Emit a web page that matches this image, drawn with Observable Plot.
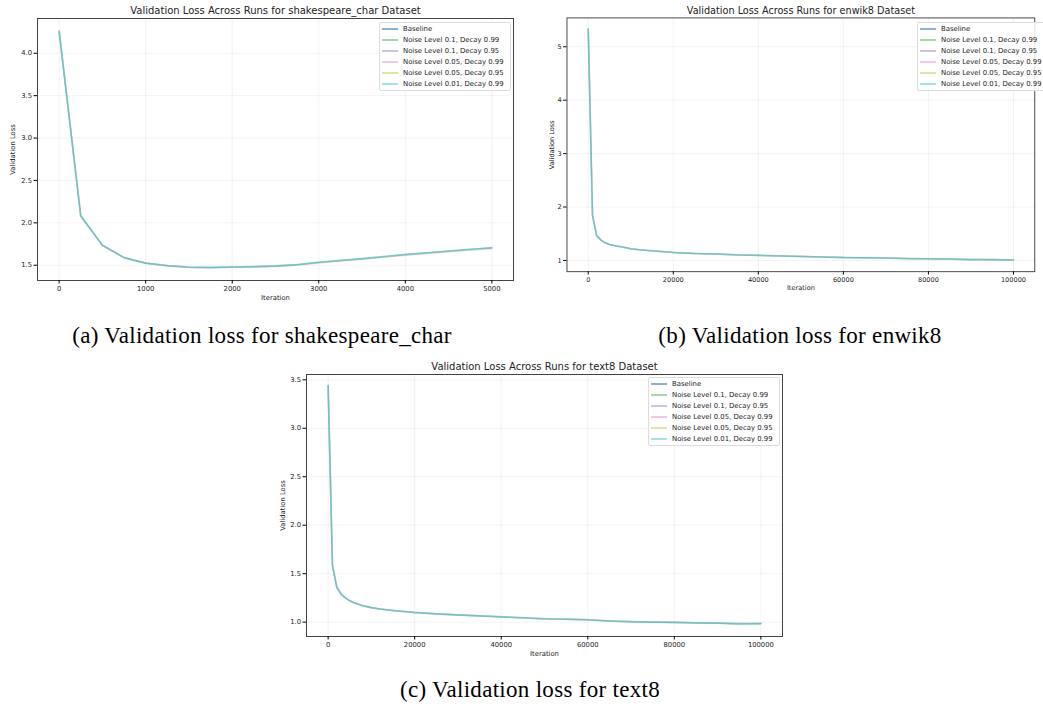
<!DOCTYPE html>
<html>
<head>
<meta charset="utf-8">
<script src="https://cdn.jsdelivr.net/npm/d3@7"></script>
<script src="https://cdn.jsdelivr.net/npm/@observablehq/plot@0.6"></script>
<style>
  html, body { margin: 0; padding: 0; background: #fff; overflow: hidden; }
  #root { position: relative; width: 1043px; height: 706px; overflow: hidden; font-family: "DejaVu Sans", sans-serif; }
  .panel { position: absolute; }
  .cap { position: absolute; font-family: "Liberation Serif", "DejaVu Serif", serif; font-size: 23px; line-height: 22px; letter-spacing: 0.3px; white-space: nowrap; transform: translateX(-50%); color: #000; }
  .legend { position: absolute; width: 126px; background: rgba(255,255,255,0.85); border: 1px solid #dcdcdc; border-radius: 2px; padding: 1px 2px; font-family: "DejaVu Sans", sans-serif; font-size: 6.9px; color: #222; white-space: nowrap; }
  .legend .row { display: flex; align-items: center; height: 10.9px; }
  .legend svg { flex: none; margin-right: 5px; }
</style>
</head>
<body>
<div id="root"></div>
<script>
// ---------- series names & colours ----------
const seriesNames = [
  "Baseline",
  "Noise Level 0.1, Decay 0.99",
  "Noise Level 0.1, Decay 0.95",
  "Noise Level 0.05, Decay 0.99",
  "Noise Level 0.05, Decay 0.95",
  "Noise Level 0.01, Decay 0.99"
];
const seriesColors = ["#1f77b4", "#2ca02c", "#9467bd", "#e377c2", "#bcbd22", "#17becf"];

// ---------- shakespeare_char ----------
const shkIters = [0,250,500,750,1000,1250,1500,1750,2000,2250,2500,2750,3000,3250,3500,3750,4000,4250,4500,4750,5000];
const shkBaseline = [4.26,2.08,1.735,1.59,1.525,1.495,1.478,1.472,1.478,1.482,1.490,1.505,1.535,1.555,1.575,1.600,1.625,1.645,1.665,1.685,1.705];
const shkN01D99   = [4.26,2.08,1.735,1.59,1.525,1.494,1.476,1.474,1.480,1.485,1.493,1.508,1.533,1.556,1.578,1.602,1.627,1.648,1.668,1.688,1.708];
const shkN01D95   = [4.26,2.08,1.733,1.59,1.524,1.493,1.475,1.473,1.477,1.481,1.489,1.504,1.532,1.553,1.574,1.598,1.622,1.643,1.663,1.683,1.702];
const shkN005D99  = [4.26,2.08,1.735,1.59,1.523,1.492,1.472,1.468,1.474,1.478,1.486,1.500,1.526,1.548,1.570,1.594,1.618,1.640,1.660,1.680,1.699];
const shkN005D95  = [4.26,2.08,1.736,1.59,1.526,1.494,1.477,1.470,1.476,1.480,1.485,1.499,1.528,1.550,1.571,1.595,1.619,1.638,1.657,1.677,1.696];
const shkN001D99  = [4.26,2.08,1.735,1.59,1.525,1.496,1.479,1.475,1.479,1.484,1.492,1.507,1.536,1.557,1.578,1.603,1.628,1.648,1.668,1.689,1.707];
const shkXTicks = [0,1000,2000,3000,4000,5000];
const shkYTicks = [1.5,2.0,2.5,3.0,3.5,4.0];

// ---------- enwik8 ----------
const longIters = [0,1000,2000,3000,4000,5000,6000,8000,10000,12000,15000,20000,25000,30000,35000,40000,45000,50000,55000,60000,65000,70000,75000,80000,85000,90000,95000,100000];
const enwBaseline = [5.33,1.84,1.46,1.38,1.33,1.30,1.28,1.25,1.22,1.20,1.180,1.150,1.130,1.120,1.105,1.095,1.085,1.075,1.065,1.055,1.050,1.045,1.035,1.030,1.025,1.015,1.015,1.010];
const enwN01D99   = [5.33,1.85,1.47,1.38,1.33,1.30,1.28,1.25,1.22,1.20,1.178,1.152,1.132,1.118,1.107,1.093,1.087,1.077,1.063,1.057,1.048,1.046,1.037,1.028,1.026,1.017,1.013,1.012];
const enwN01D95   = [5.33,1.84,1.46,1.38,1.33,1.30,1.28,1.25,1.22,1.20,1.181,1.149,1.131,1.121,1.104,1.096,1.084,1.076,1.066,1.054,1.051,1.044,1.036,1.031,1.024,1.016,1.014,1.011];
const enwN005D99  = [5.33,1.84,1.46,1.38,1.33,1.30,1.28,1.25,1.22,1.20,1.179,1.151,1.129,1.119,1.106,1.094,1.086,1.074,1.064,1.056,1.049,1.043,1.034,1.029,1.023,1.014,1.016,1.009];
const enwN005D95  = [5.33,1.85,1.46,1.38,1.33,1.30,1.28,1.25,1.22,1.20,1.182,1.150,1.130,1.122,1.105,1.097,1.085,1.075,1.067,1.055,1.050,1.045,1.035,1.032,1.025,1.015,1.020,1.010];
const enwN001D99  = [5.33,1.84,1.46,1.38,1.33,1.30,1.28,1.25,1.22,1.20,1.180,1.148,1.130,1.120,1.103,1.095,1.083,1.075,1.065,1.053,1.052,1.045,1.033,1.030,1.027,1.015,1.015,1.010];
const longXTicks = [0,20000,40000,60000,80000,100000];
const enwYTicks = [1,2,3,4,5];

// ---------- text8 ----------
const t8Baseline = [3.44,1.58,1.36,1.29,1.25,1.22,1.20,1.17,1.15,1.135,1.120,1.100,1.085,1.075,1.065,1.055,1.045,1.035,1.030,1.025,1.012,1.005,1.000,0.998,0.993,0.990,0.985,0.985];
const t8N01D99   = [3.44,1.59,1.36,1.29,1.25,1.22,1.20,1.17,1.15,1.136,1.121,1.098,1.087,1.077,1.063,1.057,1.046,1.036,1.029,1.026,1.010,1.007,1.001,0.997,0.995,0.991,0.984,0.987];
const t8N01D95   = [3.44,1.58,1.36,1.29,1.25,1.22,1.20,1.17,1.15,1.134,1.119,1.101,1.084,1.074,1.066,1.054,1.044,1.034,1.031,1.024,1.013,1.004,0.999,0.999,0.992,0.989,0.986,0.984];
const t8N005D99  = [3.44,1.58,1.36,1.29,1.25,1.22,1.20,1.17,1.15,1.135,1.122,1.102,1.086,1.076,1.064,1.056,1.045,1.037,1.032,1.025,1.014,1.006,1.002,0.998,0.994,0.990,0.987,0.986];
const t8N005D95  = [3.44,1.58,1.37,1.29,1.25,1.22,1.20,1.17,1.15,1.135,1.118,1.099,1.085,1.075,1.065,1.055,1.043,1.035,1.030,1.023,1.011,1.005,1.000,0.996,0.993,0.988,0.985,0.983];
const t8N001D99  = [3.44,1.58,1.36,1.29,1.25,1.22,1.20,1.17,1.15,1.135,1.120,1.100,1.085,1.073,1.065,1.053,1.045,1.033,1.030,1.025,1.012,1.003,1.000,0.998,0.991,0.990,0.980,0.985];
const t8YTicks = [1.0,1.5,2.0,2.5,3.0,3.5];

function toRows(iters, arrays) {
  const rows = [];
  arrays.forEach((vals, si) => vals.forEach((v, i) => rows.push({series: seriesNames[si], iter: iters[i], loss: v})));
  return rows;
}

function makeChart({rows, title, width, height, ml, mr, mt, mb, xDomain, yDomain, xTicks, yTicks, yFmt, yLabelOffset, titleDy}) {
  const marks = [
    Plot.gridX(xTicks, {stroke: "#b0b0b0", strokeOpacity: 0.2, strokeWidth: 0.8}),
    Plot.gridY(yTicks, {stroke: "#b0b0b0", strokeOpacity: 0.2, strokeWidth: 0.8}),
  ];
  const last = seriesNames.length - 1;
  seriesNames.forEach((name, i) => {
    marks.push(Plot.line(rows.filter(d => d.series === name), {
      x: "iter", y: "loss", stroke: seriesColors[i], strokeOpacity: i === last ? 0.42 : 0.15,
      strokeWidth: 1.6, curve: "linear"
    }));
  });
  marks.push(
    Plot.frame({stroke: "#444", strokeWidth: 1}),
    Plot.axisX({ticks: xTicks, tickSize: 3.5, tickPadding: 2, fontSize: 6.8, fill: "#222",
      label: "Iteration", labelAnchor: "center", labelOffset: 19, labelArrow: "none", tickFormat: d3.format("d")}),
    Plot.axisY({ticks: yTicks, tickSize: 3.5, tickPadding: 2, fontSize: 6.8, fill: "#222",
      label: "Validation Loss", labelAnchor: "center", labelOffset: yLabelOffset, labelArrow: "none", tickFormat: yFmt}),
    Plot.text([title], {frameAnchor: "top", dy: titleDy, fontSize: 10, fill: "#222", text: d => d})
  );
  return Plot.plot({
    width, height, marginLeft: ml, marginRight: mr, marginTop: mt, marginBottom: mb,
    style: {fontFamily: "DejaVu Sans, sans-serif", background: "transparent", overflow: "visible"},
    x: {domain: xDomain}, y: {domain: yDomain},
    marks
  });
}

function makeLegend(left, top) {
  const div = document.createElement("div");
  div.className = "legend";
  div.style.left = left + "px";
  div.style.top = top + "px";
  seriesNames.forEach((name, i) => {
    const row = document.createElement("div");
    row.className = "row";
    row.innerHTML = `<svg width="16" height="4"><line x1="0" x2="16" y1="2" y2="2" stroke="${seriesColors[i]}" stroke-opacity="0.55" stroke-width="${i===0?2:1.5}"/></svg><span>${name}</span>`;
    div.appendChild(row);
  });
  return div;
}

const root = document.getElementById("root");
function place(el, left, top) {
  const wrap = document.createElement("div");
  wrap.className = "panel";
  wrap.style.left = left + "px";
  wrap.style.top = top + "px";
  wrap.appendChild(el);
  root.appendChild(wrap);
}

// (a) shakespeare_char
place(makeChart({
  rows: toRows(shkIters, [shkBaseline, shkN01D99, shkN01D95, shkN005D99, shkN005D95, shkN001D99]),
  title: "Validation Loss Across Runs for shakespeare_char Dataset",
  width: 520, height: 305, ml: 37, mr: 7, mt: 18, mb: 25,
  xDomain: [-250, 5250], yDomain: [1.32, 4.41], xTicks: shkXTicks, yTicks: shkYTicks, yFmt: d3.format(".1f"),
  yLabelOffset: 27, titleDy: -11.5
}), 0, 0);
root.appendChild(makeLegend(379, 22));

// (b) enwik8
place(makeChart({
  rows: toRows(longIters, [enwBaseline, enwN01D99, enwN01D95, enwN005D99, enwN005D95, enwN001D99]),
  title: "Validation Loss Across Runs for enwik8 Dataset",
  width: 540, height: 305, ml: 48, mr: 9, mt: 18, mb: 25,
  xDomain: [-5000, 105000], yDomain: [0.79, 5.54], xTicks: longXTicks, yTicks: enwYTicks, yFmt: d3.format("d"),
  yLabelOffset: 18.5, titleDy: -11.5
}), 520, 0);
root.appendChild(makeLegend(917, 22));

// (c) text8
place(makeChart({
  rows: toRows(longIters, [t8Baseline, t8N01D99, t8N01D95, t8N005D99, t8N005D95, t8N001D99]),
  title: "Validation Loss Across Runs for text8 Dataset",
  width: 520, height: 300, ml: 36, mr: 8, mt: 14, mb: 24,
  xDomain: [-5000, 105000], yDomain: [0.852, 3.555], xTicks: longXTicks, yTicks: t8YTicks, yFmt: d3.format(".1f"),
  yLabelOffset: 26.5, titleDy: -11.5
}), 270, 360);
root.appendChild(makeLegend(648, 377));

// captions
const captions = [
  {text: "(a) Validation loss for shakespeare_char", x: 262, y: 325},
  {text: "(b) Validation loss for enwik8", x: 800, y: 325},
  {text: "(c) Validation loss for text8", x: 530, y: 679}
];
captions.forEach(c => {
  const d = document.createElement("div");
  d.className = "cap";
  d.style.left = c.x + "px";
  d.style.top = c.y + "px";
  d.textContent = c.text;
  root.appendChild(d);
});
</script>
</body>
</html>
